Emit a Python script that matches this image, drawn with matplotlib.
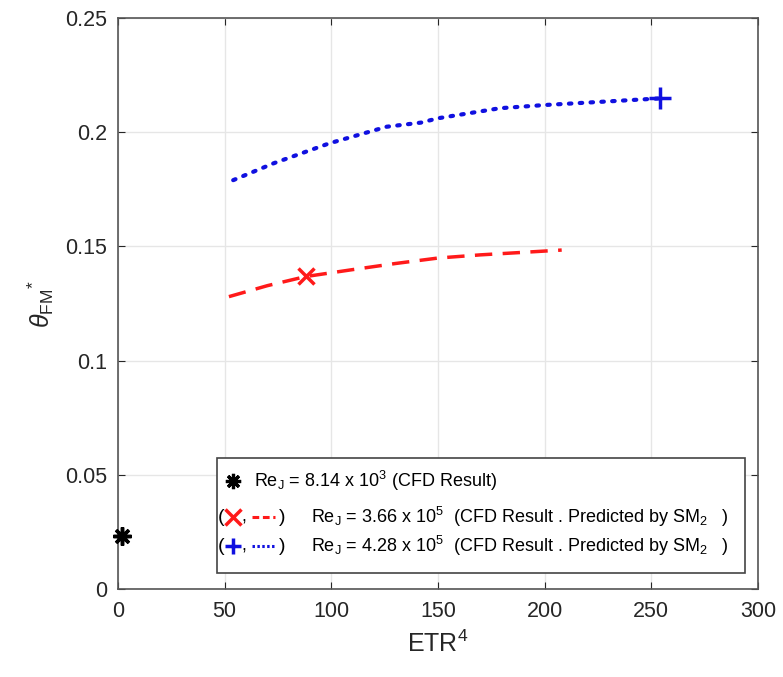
import matplotlib
matplotlib.use("Agg")
import matplotlib.pyplot as plt
from matplotlib.patches import Rectangle

plt.rcParams['font.family'] = ['Liberation Sans', 'DejaVu Sans']
plt.rcParams['mathtext.fontset'] = 'custom'
plt.rcParams['mathtext.rm'] = 'Liberation Sans'
plt.rcParams['mathtext.it'] = 'Liberation Sans:italic'
plt.rcParams['mathtext.bf'] = 'Liberation Sans:bold'

# data
cfd_low_x = [2]
cfd_low_y = [0.023]

red_line_x = [52, 70, 88, 109, 130, 150, 170, 190, 208]
red_line_y = [0.128, 0.1328, 0.1368, 0.1397, 0.1425, 0.1449, 0.1463, 0.1474, 0.1484]
red_cfd_x = [88]
red_cfd_y = [0.137]

blue_line_x = [54, 73, 99, 126, 142, 150, 179, 200, 230, 254]
blue_line_y = [0.179, 0.1864, 0.1951, 0.2024, 0.2042, 0.2061, 0.2105, 0.2119, 0.2135, 0.2148]
blue_cfd_x = [254]
blue_cfd_y = [0.215]

xticks = [0, 50, 100, 150, 200, 250, 300]
yticks = [0, 0.05, 0.1, 0.15, 0.2, 0.25]
ytick_labels = ['0', '0.05', '0.1', '0.15', '0.2', '0.25']

fig = plt.figure(figsize=(7.83, 6.77), dpi=100)
ax = fig.add_axes([0.1507, 0.13, 0.8173, 0.8434])

ax.plot(red_line_x, red_line_y, color='#ff1a1a', linestyle=(0, (5, 3)), linewidth=2.5, zorder=3)
ax.plot(blue_line_x, blue_line_y, color='#1010e0', linestyle=(0, (0.6, 2.0)), linewidth=3.0,
        dash_capstyle='round', zorder=3)
ax.plot(red_cfd_x, red_cfd_y, 'x', color='#ff1a1a', markersize=12, markeredgewidth=2.5, zorder=4)
ax.plot(blue_cfd_x, blue_cfd_y, '+', color='#1010e0', markersize=16, markeredgewidth=2.5, zorder=4)
ax.plot(cfd_low_x, cfd_low_y, marker=(8, 2, 0), color='black', markersize=13, markeredgewidth=2.5,
        linestyle='none', zorder=4, clip_on=False)

ax.set_xlim(0, 300)
ax.set_ylim(0, 0.25)
ax.set_xticks(xticks)
ax.set_yticks(yticks)
ax.set_yticklabels(ytick_labels)
ax.grid(True, color='#e6e6e6', linewidth=1.0)
ax.set_axisbelow(True)
ax.tick_params(direction='in', top=True, right=True, labelsize=15.5, colors='#262626',
               length=5, width=0.8)
ax.tick_params(axis='x', pad=9)
ax.tick_params(axis='y', pad=8)
for s in ax.spines.values():
    s.set_color('#555555')
    s.set_linewidth(1.2)

ax.set_xlabel(r'ETR$^4$', fontsize=18, color='#262626', labelpad=6)
ax.set_ylabel(r'$\theta_{\rm FM}{}^{*}$', fontsize=18, color='#262626', labelpad=6)

# legend box drawn by hand (matches the original layout)
ax.add_patch(Rectangle((0.155, 0.028), 0.825, 0.201, transform=ax.transAxes,
                       facecolor='white', edgecolor='#444444', linewidth=1.2, zorder=5))
fs = 13
rows_y = [0.189, 0.126, 0.075]
ax.plot([0.179], [rows_y[0]], transform=ax.transAxes, marker=(8, 2, 0), color='black',
        markersize=11, markeredgewidth=2.3, linestyle='none', zorder=6)
ax.text(0.212, rows_y[0], r'Re$_{\rm J}$ = 8.14 x 10$^3$ (CFD Result)', transform=ax.transAxes,
        fontsize=fs, va='center', zorder=6)

for y, col, mk, ls, lab in [
        (rows_y[1], '#ff1a1a', 'x', (0, (2.2, 1.2)), r'Re$_{\rm J}$ = 3.66 x 10$^5$  (CFD Result . Predicted by SM$_2$   )'),
        (rows_y[2], '#1010e0', '+', (0, (0.8, 0.8)), r'Re$_{\rm J}$ = 4.28 x 10$^5$  (CFD Result . Predicted by SM$_2$   )')]:
    ax.text(0.156, y, '(', transform=ax.transAxes, fontsize=fs + 1, va='center', zorder=6)
    ax.plot([0.180], [y], transform=ax.transAxes, marker=mk, color=col, markersize=11,
            markeredgewidth=2.5, linestyle='none', zorder=6)
    ax.text(0.193, y, ',', transform=ax.transAxes, fontsize=fs, va='center', zorder=6)
    ax.plot([0.209, 0.246], [y, y], transform=ax.transAxes, color=col, linestyle=ls,
            linewidth=2.2, zorder=6)
    ax.text(0.252, y, ')', transform=ax.transAxes, fontsize=fs + 1, va='center', zorder=6)
    ax.text(0.302, y, lab, transform=ax.transAxes, fontsize=fs, va='center', zorder=6)

fig.savefig('out.png', dpi=100)
